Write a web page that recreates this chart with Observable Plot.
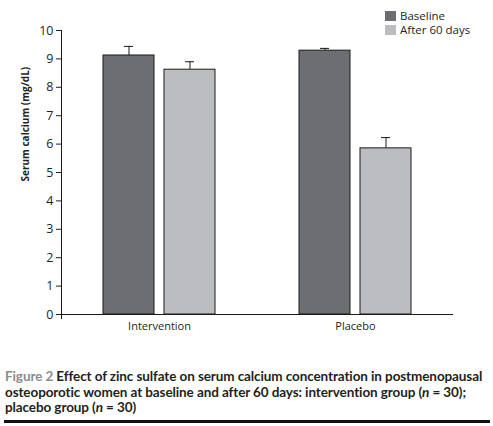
<!DOCTYPE html>
<html><head><meta charset="utf-8">
<script src="https://cdn.jsdelivr.net/npm/d3@7"></script>
<script src="https://cdn.jsdelivr.net/npm/@observablehq/plot@0.6"></script>
<style>
body{margin:0;background:#fff;}
#wrap{position:relative;width:493px;height:338px;}
#legend{position:absolute;left:385px;top:9px;font-family:'Open Sans',sans-serif;font-size:11.5px;color:#231f20;line-height:14px;}
#legend .item{display:flex;align-items:center;height:14px;}
#legend .sw{width:11px;height:10px;margin-right:4px;}
#caption{margin:31px 0 0 5px;font-family:Lato,sans-serif;font-weight:bold;font-size:13.5px;line-height:15.5px;color:#231f20;white-space:nowrap;}
#caption .fig{color:#8a8c8f;}
#rule{margin:4px 3px 0 4px;height:3px;background:#111;}
</style></head><body>
<div id="wrap"><div id="chart"></div><div id="legend"></div></div>
<div id="caption">
<div><span id="l1"><span class="fig">Figure 2</span> Effect of zinc sulfate on serum calcium concentration in postmenopausal</span></div>
<div><span>osteoporotic women at baseline and after 60 days: intervention group (<i>n</i> = 30);</span></div>
<div><span>placebo group (<i>n</i> = 30)</span></div>
</div>
<div id="rule"></div>
<script>
const groups = ["Intervention", "Placebo"];
const series = ["Baseline", "After 60 days"];
const baselineMeans = [9.12, 9.29];
const afterMeans = [8.62, 5.85];
const baselineErr = [0.32, 0.08];
const afterErr = [0.28, 0.38];
const yTicks = [0, 1, 2, 3, 4, 5, 6, 7, 8, 9, 10];
const seriesColors = ["#6d6e71", "#bcbdc0"];
const yLabel = "Serum calcium (mg/dL)";

const rows = groups.flatMap((g, i) => [
  {group: g, series: series[0], value: baselineMeans[i], err: baselineErr[i]},
  {group: g, series: series[1], value: afterMeans[i], err: afterErr[i]}
]);

const ink = "#1a1a1a";
const chart = Plot.plot({
  width: 493, height: 338,
  marginLeft: 61, marginRight: 40, marginTop: 30, marginBottom: 24,
  style: {fontFamily: "'Open Sans', sans-serif", fontSize: "11px", color: "#231f20", background: "white"},
  fx: {domain: groups, padding: 0, axis: null},
  x: {domain: series, paddingInner: 0.1626, paddingOuter: 0.675, axis: null},
  y: {domain: [0, 10], axis: null},
  color: {domain: series, range: seriesColors},
  marks: [
    Plot.ruleX(rows, {fx: "group", x: "series", y1: "value", y2: d => d.value + d.err, stroke: ink}),
    Plot.tickY(rows, {fx: "group", x: "series", y: d => d.value + d.err, stroke: ink, insetLeft: 21, insetRight: 21}),
    Plot.barY(rows, {fx: "group", x: "series", y: "value", fill: "series", stroke: ink, strokeWidth: 1}),
    Plot.ruleY([0], {stroke: ink}),
    Plot.frame({anchor: "left", facetAnchor: "left", insetBottom: -4, stroke: ink}),
    Plot.axisY({ticks: yTicks, tickSize: 5, tickPadding: 3, label: null, fontSize: 12.5}),
    Plot.axisFx({anchor: "bottom", tickSize: 0, tickPadding: 8, label: null}),
    Plot.text([{group: groups[0], label: yLabel}], {fx: "group", text: "label", frameAnchor: "left", rotate: -90, dx: -36, dy: 9, fontSize: 10, fontWeight: "bold", fill: "#231f20"})
  ]
});
document.getElementById("chart").append(chart);

const legend = d3.select("#legend");
series.forEach((s, i) => {
  const it = legend.append("div").attr("class", "item");
  it.append("div").attr("class", "sw").style("background", seriesColors[i]);
  it.append("span").text(s);
});

const l1 = document.getElementById("l1");
const w = l1.getBoundingClientRect().width;
const n = l1.textContent.length;
document.getElementById("caption").style.letterSpacing = ((477 - w) / n) + "px";
</script>
</body></html>
